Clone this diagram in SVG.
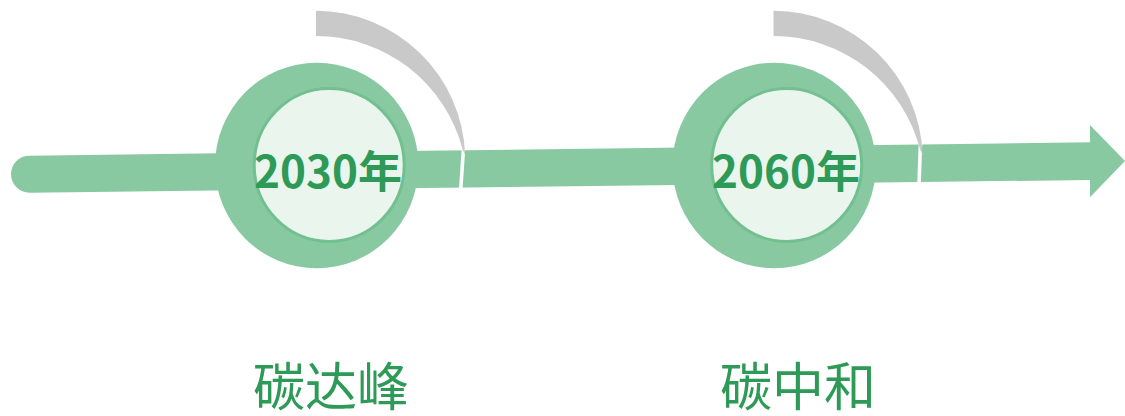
<svg xmlns="http://www.w3.org/2000/svg" width="1125" height="416" viewBox="0 0 1125 416">
  <style>
    .band { fill: #88C9A2; }
    .gap { stroke: #FFFFFF; stroke-width: 3.6; fill: none; }
    .arc { fill: #C9C9C9; }
    .outer { fill: #88C9A2; }
    .inner { fill: #EAF5EE; stroke: #72C08F; stroke-width: 3; }
    .year { font-family: "Noto Sans CJK SC", "Noto Sans", sans-serif; font-weight: 700; font-size: 44px; fill: #2E9A57; text-anchor: middle; }
    .label { font-family: "Noto Sans CJK SC", "Noto Sans", sans-serif; font-weight: 400; font-size: 52px; fill: #2E9A57; text-anchor: middle; }
  </style>
  <defs>
    <path id="grayArc" class="arc" d="M316,10.8 A149.2,149.2 0 0 1 465.1,155 L462.8,150 A151.5,151.5 0 0 0 316,36 Z"/>
  </defs>

  <g id="connectors">
    <path id="timeline-arrow" class="band" d="M29.5,155.7 L1090,142.3 L1090,125 L1125,161 L1090,197.3 L1090,180 L29.5,192.7 A18.5,18.5 0 0 1 29.5,155.7 Z"/>
  </g>

  <g id="node-2030">
    <ellipse class="outer" cx="316.7" cy="165.5" rx="101.7" ry="102.8"/>
    <ellipse class="inner" cx="329.2" cy="165" rx="75" ry="76.5"/>
    <line class="gap" x1="463.5" y1="148" x2="460.7" y2="190"/>
    <use href="#grayArc"/>
    <text class="year" x="328" y="188">2030年</text>
  </g>

  <g id="node-2060">
    <ellipse class="outer" cx="774.2" cy="165.5" rx="101.7" ry="102.8"/>
    <ellipse class="inner" cx="786.7" cy="165" rx="75" ry="76.5"/>
    <line class="gap" x1="920.5" y1="142" x2="919" y2="185"/>
    <use href="#grayArc" transform="translate(457.5,0)"/>
    <text class="year" x="786" y="188">2060年</text>
  </g>

  <g id="label-peak">
    <text class="label" x="331" y="406">碳达峰</text>
  </g>
  <g id="label-neutral">
    <text class="label" x="798" y="406">碳中和</text>
  </g>
</svg>
